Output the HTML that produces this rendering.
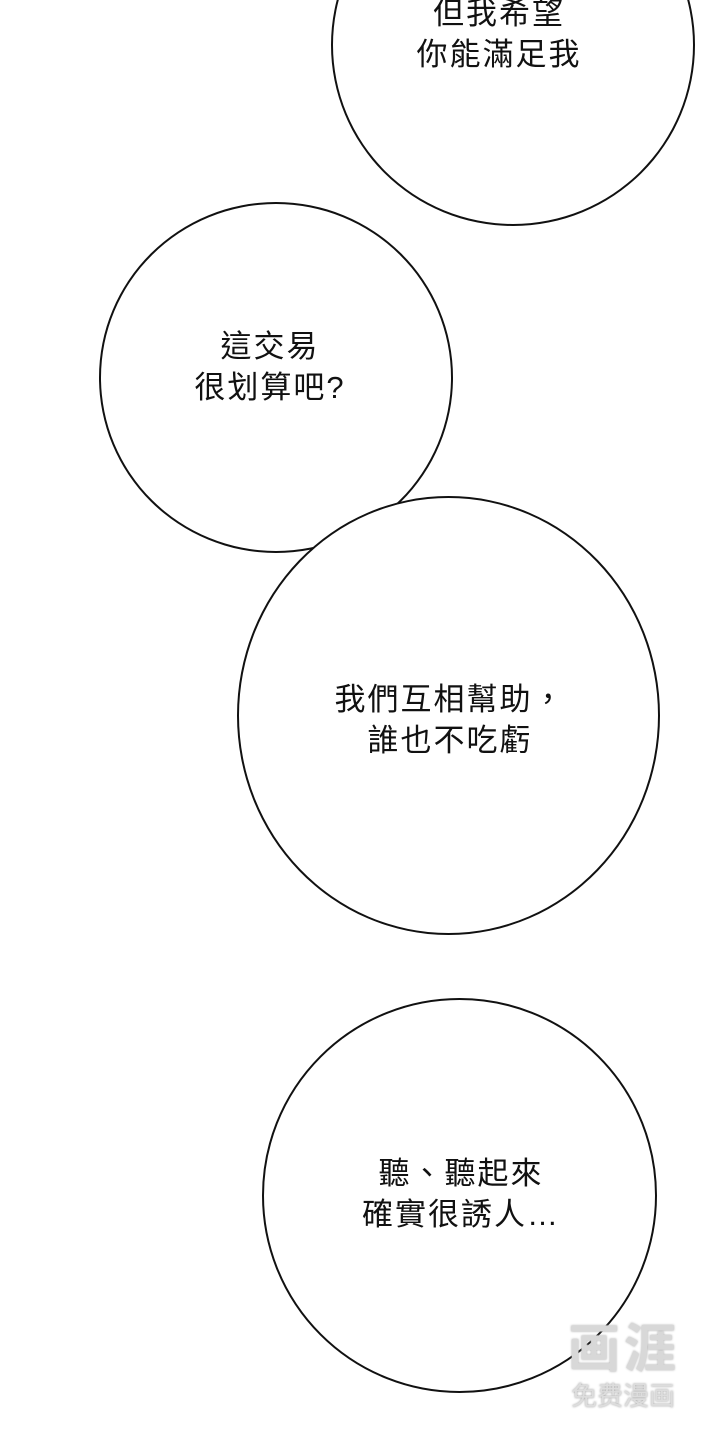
<!DOCTYPE html>
<html><head><meta charset="utf-8"><style>
html,body{margin:0;padding:0;background:#fff;}
body{width:720px;height:1440px;position:relative;overflow:hidden;font-family:"Liberation Sans","Noto Sans CJK TC",sans-serif;}
.c{position:absolute;border:2px solid #111;border-radius:50%;background:#fff;box-sizing:border-box;}
.t{position:absolute;font-size:31px;line-height:41px;letter-spacing:2px;color:#111;text-align:center;white-space:nowrap;transform:translateX(-50%);}
</style></head><body>
<div class="c" style="left:331px;top:-136px;width:364px;height:362px;"></div>
<div class="t" style="left:499px;top:-7px;">但我希望<br>你能滿足我</div>
<div class="c" style="left:99px;top:202px;width:354px;height:351px;"></div>
<div class="t" style="left:270px;top:326px;">這交易<br>很划算吧?</div>
<div class="c" style="left:237px;top:496px;width:423px;height:439px;"></div>
<div class="t" style="left:450px;top:679px;">我們互相幫助，<br>誰也不吃虧</div>
<div class="c" style="left:262px;top:998px;width:395px;height:395px;"></div>
<div class="t" style="left:461px;top:1153px;">聽、聽起來<br>確實很誘人…</div>
<div style="position:absolute;left:568px;top:1316px;font-size:52px;line-height:58px;color:#d8d8d8;font-weight:bold;letter-spacing:4px;font-family:'Noto Sans CJK SC',sans-serif;text-shadow:0 0 2px #aaa;">画涯</div>
<div style="position:absolute;left:571px;top:1380px;font-size:26px;line-height:30px;color:#ddd;font-family:'Noto Sans CJK SC',sans-serif;text-shadow:0 0 2px #999;">免费漫画</div>
</body></html>
